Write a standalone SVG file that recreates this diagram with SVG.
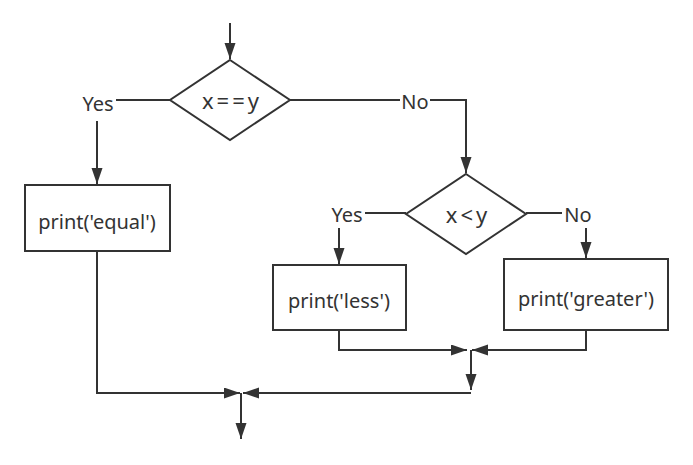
<svg xmlns="http://www.w3.org/2000/svg" width="693" height="465" viewBox="0 0 693 465">
<style>
.ln{fill:none;stroke:#333;stroke-width:2}
.sh{fill:#fff;stroke:#333;stroke-width:2}
.t{font-family:"Noto Sans","Open Sans",sans-serif;font-size:20px;fill:#333;text-anchor:middle;dominant-baseline:central}
.w{font-size:22px;letter-spacing:3px}
</style>
<defs>
<marker id="ah" markerUnits="userSpaceOnUse" markerWidth="17" markerHeight="12" refX="16" refY="5.5" orient="auto">
<path d="M0,0 L16,5.5 L0,11 z" fill="#333"/>
</marker>
</defs>
<rect width="693" height="465" fill="#fff"/>
<g id="connectors">
<path class="ln" d="M230,23 V59" marker-end="url(#ah)"/>
<path class="ln" d="M170,100 H116"/>
<path class="ln" d="M97,121 V184" marker-end="url(#ah)"/>
<path class="ln" d="M290,100 H400"/>
<path class="ln" d="M430,100 H466 V173" marker-end="url(#ah)"/>
<path class="ln" d="M406,213 H365"/>
<path class="ln" d="M339,228 V264" marker-end="url(#ah)"/>
<path class="ln" d="M526,213 H562"/>
<path class="ln" d="M586,228 V258" marker-end="url(#ah)"/>
<path class="ln" d="M97,251 V393 H240" marker-end="url(#ah)"/>
<path class="ln" d="M339,330 V350 H467" marker-end="url(#ah)"/>
<path class="ln" d="M586,330 V350 H472" marker-end="url(#ah)"/>
<path class="ln" d="M471,350 V390" marker-end="url(#ah)"/>
<path class="ln" d="M471,393 H243" marker-end="url(#ah)"/>
<path class="ln" d="M241,393 V439" marker-end="url(#ah)"/>
<text class="t" x="98" y="103">Yes</text>
<text class="t" x="415" y="101">No</text>
<text class="t" x="347" y="214">Yes</text>
<text class="t" x="578" y="214">No</text>
</g>
<g id="d1">
<polygon class="sh" points="230,60 290,100 230,140 170,100"/>
<text class="t w" x="232" y="100">x==y</text>
</g>
<g id="d2">
<polygon class="sh" points="466,174 526,214 466,254 406,214"/>
<text class="t w" x="468" y="214">x&lt;y</text>
</g>
<g id="b_equal">
<rect class="sh" x="25" y="185" width="145" height="66"/>
<text class="t" x="97" y="221">print('equal')</text>
</g>
<g id="b_less">
<rect class="sh" x="273" y="265" width="133" height="65"/>
<text class="t" x="339" y="300">print('less')</text>
</g>
<g id="b_greater">
<rect class="sh" x="504" y="259" width="164" height="71"/>
<text class="t" x="586" y="298">print('greater')</text>
</g>
</svg>
